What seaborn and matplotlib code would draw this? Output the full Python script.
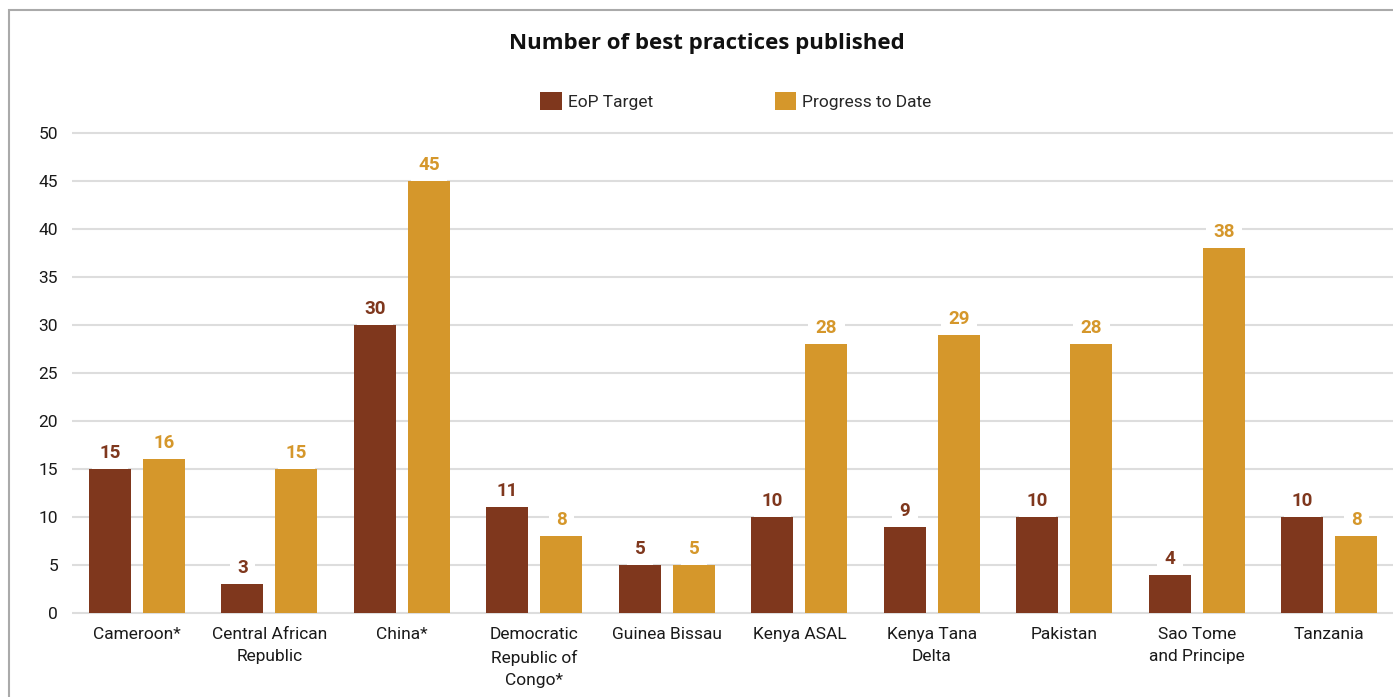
import matplotlib
matplotlib.use("Agg")
import matplotlib.pyplot as plt
import matplotlib.patches as mpatches
import seaborn as sns
import pandas as pd

categories = ["Cameroon*", "Central African\nRepublic", "China*", "Democratic\nRepublic of\nCongo*",
              "Guinea Bissau", "Kenya ASAL", "Kenya Tana\nDelta", "Pakistan",
              "Sao Tome\nand Principe", "Tanzania"]
eop_target = [15, 3, 30, 11, 5, 10, 9, 10, 4, 10]
progress = [16, 15, 45, 8, 5, 28, 29, 28, 38, 8]
series_names = ["EoP Target", "Progress to Date"]
colors = ["#7F371D", "#D5972B"]
yticks = [0, 5, 10, 15, 20, 25, 30, 35, 40, 45, 50]

sns.set_theme(style="white")
plt.rcParams["font.family"] = ["Roboto", "DejaVu Sans"]

df = pd.DataFrame({
    "country": categories * 2,
    "value": eop_target + progress,
    "series": [series_names[0]] * len(categories) + [series_names[1]] * len(categories),
})

W, H = 1393, 697
fig = plt.figure(figsize=(W / 100, H / 100), dpi=100)
y0_px, y50_px = 613, 133
lo, hi = -0.3, 50.3
ppu = (y0_px - y50_px) / 50
bottom_px = y0_px + (0 - lo) * ppu
top_px = y50_px - (hi - 50) * ppu
ax = fig.add_axes([72 / W, 1 - bottom_px / H, 1 - 72 / W, (bottom_px - top_px) / H])

sns.barplot(data=df, x="country", y="value", hue="series", palette=colors,
            width=0.815, gap=0.222, ax=ax, saturation=1, zorder=3, linewidth=0)

ax.set_ylim(lo, hi)
ax.set_xlim(-0.49, 9.48)
ax.set_yticks(yticks)
ax.grid(axis="y", color="#DDDDDD", linewidth=1.5, zorder=0)
ax.grid(axis="x", visible=False)
ax.set_axisbelow(True)
for s in ax.spines.values():
    s.set_visible(False)
ax.set_xlabel("")
ax.set_ylabel("")
ax.tick_params(axis="both", length=0, labelsize=12.5, colors="#1a1a1a")
ax.tick_params(axis="x", pad=8)
ax.tick_params(axis="y", pad=10)
for lbl in ax.get_xticklabels():
    lbl.set_linespacing(1.6)

for cont, col in zip(ax.containers, colors):
    texts = ax.bar_label(cont, fmt="%d", padding=5, color=col, fontsize=13.5,
                         fontweight="bold",
                         bbox=dict(boxstyle="square,pad=0.4", fc="white", ec="none"))
    for t in texts:
        t.set_zorder(2)

sns.move_legend(ax, "center", bbox_to_anchor=(736 / W, 1 - 101 / H),
                bbox_transform=fig.transFigure, ncol=2, frameon=False, title=None,
                fontsize=12.5, handlelength=1.25, handleheight=1.25,
                handletextpad=0.35, columnspacing=7.0)

fig.text(707 / W, 1 - 43 / H, "Number of best practices published", ha="center", va="center",
         fontsize=16, fontweight="bold", family=["Open Sans", "DejaVu Sans"], color="#111111")

fig.patches.append(mpatches.Rectangle((9 / W, -0.1), 1.2, 1 - 10 / H + 0.1,
                                      transform=fig.transFigure, fill=False,
                                      edgecolor="#AAAAAA", linewidth=1.5))

fig.savefig("out.png", dpi=100)
